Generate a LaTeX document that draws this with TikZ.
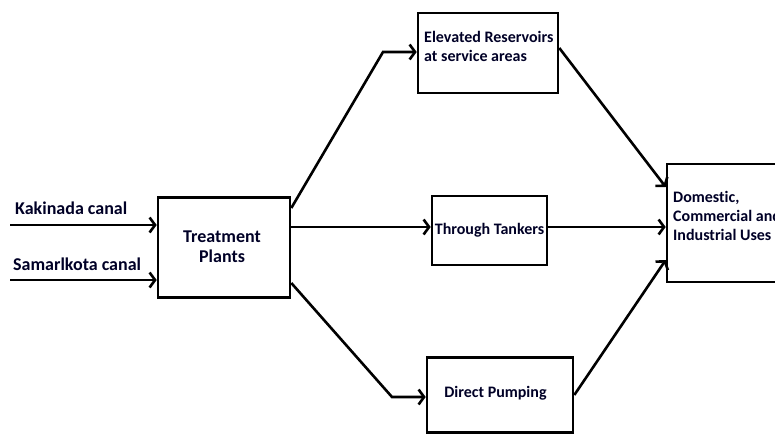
\documentclass[tikz,border=0pt]{standalone}
\usepackage{fontspec}
\setmainfont[Ligatures={NoCommon}]{Carlito}
\usetikzlibrary{arrows.meta,calc}
\begin{document}
\begin{tikzpicture}[x=1pt,y=-1pt,
  box/.style={draw, line width=2.6pt, rectangle, inner sep=0pt},
  lbl/.style={font=\bfseries\fontsize{16}{19}\selectfont, inner sep=0pt, text=black!85!blue},
  big/.style={font=\bfseries\fontsize{18}{20}\selectfont, inner sep=0pt, text=black!85!blue},
  arr/.style={line width=2.6pt, -{Straight Barb[length=5.5pt,width=15pt]}}]
\useasboundingbox (0,0) rectangle (775,434);
\clip (0,0) rectangle (775,434);
% boxes
\node[box, minimum width=132pt, minimum height=100pt] (tp) at (224,247.5) {};
\node[box, minimum width=140pt, minimum height=80pt] (er) at (488,53) {};
\node[box, minimum width=115pt, minimum height=69pt] (tt) at (489.5,230.5) {};
\node[box, minimum width=146pt, minimum height=75pt] (dp) at (500,395) {};
\node[box, minimum width=133pt, minimum height=118pt] (du) at (733.5,223) {};
% texts
\node[big, align=center] (tpt) at (222,247) {Treatment\\Plants};
\node[lbl, align=left, anchor=west] (ert) at (424,46.5) {Elevated Reservoirs\\at service areas};
\node[lbl] (ttt) at (489.5,230) {Through Tankers};
\node[lbl] (dpt) at (495.5,393) {Direct Pumping};
\node[lbl, align=left, anchor=west] (dut) at (673,216) {Domestic,\\Commercial and\\Industrial Uses};
\node[big, anchor=west] (kt) at (15,208) {Kakinada canal};
\node[big, anchor=west] (st) at (13,264) {Samarlkota canal};
% inputs
\coordinate (k) at (10,225);
\coordinate (s) at (10,280);
\draw[arr] (k) -- (k -| tp.west);
\draw[arr] (s) -- (s -| tp.west);
% bends
\coordinate (b1) at (383,52);
\coordinate (b3) at (392,397);
\draw[arr] ([yshift=39.5pt]tp.east) -- (b1) -- (b1 -| er.west);
\draw[arr] ([yshift=20.5pt]tp.east) -- ([yshift=3.5pt]tt.west);
\draw[arr] ([yshift=-35.5pt]tp.east) -- (b3) -- (b3 -| dp.west);
\draw[arr] ([yshift=5pt]er.east) -- ([yshift=36pt]du.west);
\draw[arr] ([yshift=3.5pt]tt.east) -- ([yshift=-4pt]du.west);
\draw[arr] (dp.east) -- ([yshift=-37pt]du.west);
\end{tikzpicture}
\end{document}
